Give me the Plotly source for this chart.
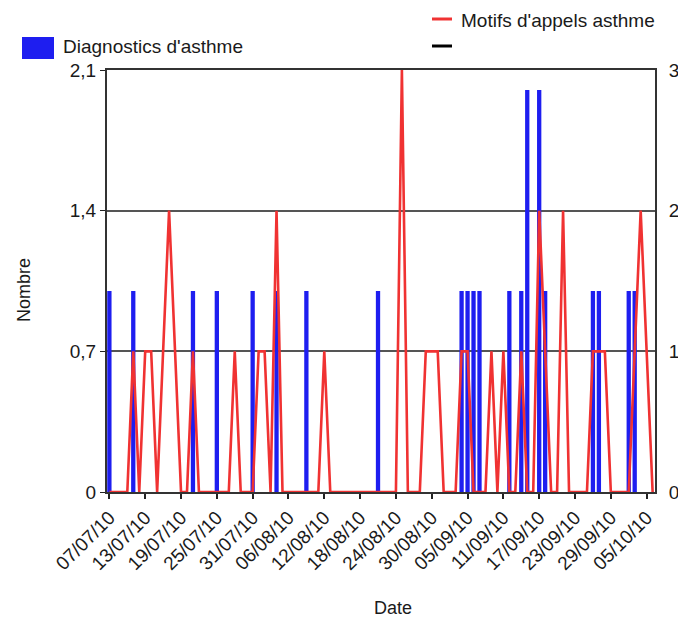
import pandas as pd
import plotly.graph_objects as go

# Daily series, 07/07/10 -> 06/10/10
first_day = "2010-07-07"
diagnostics = [
    1, 0, 0, 0, 1, 0, 0, 0, 0, 0,
    0, 0, 0, 0, 1, 0, 0, 0, 1, 0,
    0, 0, 0, 0, 1, 0, 0, 0, 1, 0,
    0, 0, 0, 1, 0, 0, 0, 0, 0, 0,
    0, 0, 0, 0, 0, 1, 0, 0, 0, 0,
    0, 0, 0, 0, 0, 0, 0, 0, 0, 1,
    1, 1, 1, 0, 0, 0, 0, 1, 0, 1,
    2, 0, 2, 1, 0, 0, 0, 0, 0, 0,
    0, 1, 1, 0, 0, 0, 0, 1, 1, 0,
    0, 0,
]
appels = [
    0, 0, 0, 0, 1, 0, 1, 1, 0, 1,
    2, 1, 0, 0, 1, 0, 0, 0, 0, 0,
    0, 1, 0, 0, 0, 1, 1, 0, 2, 0,
    0, 0, 0, 0, 0, 0, 1, 0, 0, 0,
    0, 0, 0, 0, 0, 0, 0, 0, 0, 3,
    0, 0, 0, 1, 1, 1, 0, 0, 0, 1,
    1, 0, 0, 0, 1, 0, 1, 0, 0, 1,
    0, 0, 2, 1, 0, 0, 2, 0, 0, 0,
    0, 1, 1, 1, 0, 0, 0, 0, 1, 2,
    1, 0,
]
dates = pd.date_range(first_day, periods=len(appels), freq="D")

left_ticks = [0, 0.7, 1.4, 2.1]
left_labels = ["0", "0,7", "1,4", "2,1"]
right_ticks = [0, 1, 2, 3]

bar_name = "Diagnostics d'asthme"
line_name = "Motifs d'appels asthme"

BLUE = "#1e1ef0"
RED = "#f03232"
TEXT = "#1a1a1a"
FONT = "Liberation Sans, Arial, sans-serif"
DAY_MS = 86400000

W, H = 678, 619
L, R, T, B = 107, 23, 70, 127
PW, PH = W - L - R, H - T - B


def px_x(x):
    return (x - L) / PW


def px_y(y):
    return (H - B - y) / PH


fig = go.Figure()
fig.add_bar(x=dates, y=diagnostics, name=bar_name, marker_color=BLUE,
            marker_line_width=0, width=0.72 * DAY_MS, yaxis="y")
fig.add_scatter(x=dates, y=appels, name=line_name, mode="lines",
                line=dict(color=RED, width=2.6), yaxis="y2")

t0 = pd.Timestamp(first_day)
x_range = [t0 - pd.Timedelta(hours=0.4 * 24), t0 + pd.Timedelta(hours=91.4 * 24)]

fig.update_layout(
    width=W, height=H,
    margin=dict(l=L, r=R, t=T, b=B),
    paper_bgcolor="white", plot_bgcolor="white",
    showlegend=False,
    font=dict(family=FONT, color=TEXT, size=17),
    xaxis=dict(type="date", range=x_range, tick0=first_day, dtick=6 * DAY_MS,
               tickformat="%d/%m/%y", tickangle=-45, ticks="outside",
               ticklen=5, tickwidth=1.5, tickcolor="#222",
               showline=True, linecolor="#333", linewidth=2, mirror=True,
               showgrid=False, zeroline=False, automargin=False,
               tickfont=dict(size=19)),
    yaxis=dict(range=[0, 2.1], tickvals=left_ticks, ticktext=left_labels,
               ticks="outside", ticklen=5, tickcolor="#222",
               showline=True, linecolor="#333", linewidth=2,
               showgrid=True, gridcolor="#555", gridwidth=1.6,
               zeroline=False, automargin=False, tickfont=dict(size=19)),
    yaxis2=dict(range=[0, 3], tickvals=right_ticks, overlaying="y", side="right",
                showline=True, linecolor="#333", linewidth=2,
                showgrid=False, zeroline=False, ticks="", automargin=False,
                ticklabelstandoff=8, tickfont=dict(size=19)),
)

# legend drawn by hand to match the original layout
fig.add_shape(type="rect", xref="paper", yref="paper",
              x0=px_x(22), x1=px_x(54), y0=px_y(37), y1=px_y(59),
              fillcolor=BLUE, line_width=0)
fig.add_shape(type="line", xref="paper", yref="paper",
              x0=px_x(432), x1=px_x(452), y0=px_y(19), y1=px_y(19),
              line=dict(color=RED, width=3))
fig.add_shape(type="line", xref="paper", yref="paper",
              x0=px_x(432), x1=px_x(452), y0=px_y(46), y1=px_y(46),
              line=dict(color="black", width=3))
fig.add_annotation(text=bar_name, xref="paper", yref="paper",
                   x=px_x(61), y=px_y(47), xanchor="left", yanchor="middle",
                   showarrow=False, font=dict(size=19))
fig.add_annotation(text=line_name, xref="paper", yref="paper",
                   x=px_x(459), y=px_y(20), xanchor="left", yanchor="middle",
                   showarrow=False, font=dict(size=19))

# axis titles
fig.add_annotation(text="Date", xref="paper", yref="paper",
                   x=px_x(393), y=px_y(608), xanchor="center", yanchor="middle",
                   showarrow=False, font=dict(size=18))
fig.add_annotation(text="Nombre", xref="paper", yref="paper",
                   x=px_x(24), y=px_y(290), xanchor="center", yanchor="middle",
                   textangle=-90, showarrow=False, font=dict(size=18))

# drop the default page margin so the figure sits at the window origin
fig.write_html("out.html", config={"displayModeBar": False},
               post_script="document.body.style.margin='0';")
